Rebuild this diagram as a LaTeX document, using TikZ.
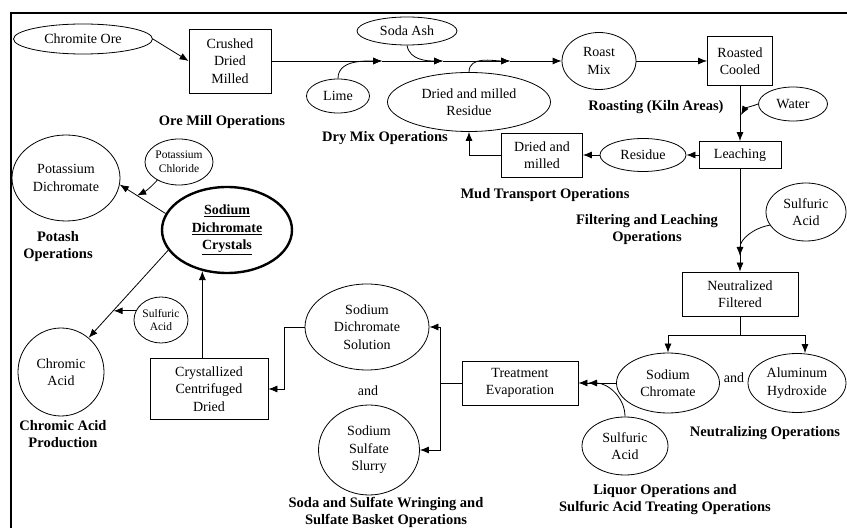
\documentclass[tikz,border=0pt]{standalone}
\usepackage{fontspec}
\setmainfont{Liberation Serif}
\usetikzlibrary{shapes.geometric,arrows.meta,calc}

\begin{document}
\begin{tikzpicture}[x=1pt, y=1pt,
   every node/.style={font=\fontsize{14}{17.5}\selectfont},
   oval/.style={ellipse, draw, line width=0.8pt, inner sep=0pt, align=center},
   stage/.style={draw, line width=0.8pt, inner sep=0pt, align=center},
   small/.style={font=\fontsize{11.5}{13.5}\selectfont, inner xsep=-6pt},
   area/.style={font=\fontsize{14.5}{17}\selectfont\bfseries, align=center},
   flow/.style={line width=0.8pt, -{Latex[length=9pt,width=7pt]}}]
\useasboundingbox (0,0) rectangle (847,528);
\draw[line width=1.2pt] (11,0) -- (11,515) -- (847,515);

\node[oval, minimum width=139, minimum height=30] (ore) at (83,489) {Chromite Ore};
\node[stage, minimum width=82, minimum height=64] (mill) at (230,467) {Crushed\\Dried\\Milled};
\node[oval, minimum width=100, minimum height=28] (soda) at (407,497) {Soda Ash};
\node[oval, minimum width=63, minimum height=34] (lime) at (338,432) {Lime};
\node[oval, minimum width=163, minimum height=59] (drymix) at (469,426) {Dried and milled\\Residue};
\node[oval, minimum width=74, minimum height=57] (roast) at (599,467) {Roast\\Mix};
\node[stage, minimum width=65, minimum height=49] (cooled) at (740,467) {Roasted\\Cooled};
\node[oval, minimum width=69, minimum height=34] (water) at (793,424) {Water};
\node[stage, minimum width=82, minimum height=27] (leach) at (740,373) {Leaching};
\node[oval, minimum width=86, minimum height=33] (residue) at (643,373) {Residue};
\node[stage, minimum width=81, minimum height=44] (mud) at (542,373) {Dried and\\milled};
\node[oval, minimum width=80, minimum height=58] (acida) at (806,316) {Sulfuric\\Acid};
\node[stage, minimum width=116, minimum height=44] (neutral) at (740,234) {Neutralized\\Filtered};
\node[oval, minimum width=103, minimum height=60] (chromate) at (668,145) {Sodium\\Chromate};
\node (andright) at (734,150) {and};
\node[oval, minimum width=98, minimum height=59] (alum) at (797,145) {Aluminum\\Hydroxide};
\node[oval, minimum width=86, minimum height=58] (acidb) at (625,82) {Sulfuric\\Acid};
\node[stage, minimum width=116, minimum height=44] (evap) at (520,145) {Treatment\\Evaporation};
\node[oval, minimum width=124, minimum height=86] (solution) at (367,201) {Sodium\\Dichromate\\Solution};
\node (andleft) at (368,137) {and};
\node[oval, minimum width=101, minimum height=90] (slurry) at (369,78) {Sodium\\Sulfate\\Slurry};
\node[stage, minimum width=118, minimum height=61] (cryst) at (209,139) {Crystallized\\Centrifuged\\Dried};
\node[oval, line width=2.4pt, minimum width=130, minimum height=86] (crystals) at (227,298)
  {\underline{\textbf{Sodium}}\\\underline{\textbf{Dichromate}}\\\underline{\textbf{Crystals}}};
\node[oval, minimum width=108, minimum height=86] (potdi) at (66,350) {Potassium\\Dichromate};
\node[oval, small, minimum width=68, minimum height=46] (kcl) at (179,366) {Potassium\\Chloride};
\node[oval, minimum width=86, minimum height=88] (chromic) at (61,156) {Chromic\\Acid};
\node[oval, small, minimum width=54, minimum height=46] (acidc) at (161,208) {Sulfuric\\Acid};

\node[area] (lblmill) at (222,406) {Ore Mill Operations};
\node[area] (lbldry) at (385,390) {Dry Mix Operations};
\node[area] (lblkiln) at (656,421) {Roasting (Kiln Areas)};
\node[area] (lblmud) at (545,333) {Mud Transport Operations};
\node[area] (lblfilter) at (647,298) {Filtering and Leaching\\Operations};
\node[area] (lblneutral) at (765,95) {Neutralizing Operations};
\node[area] (lblliquor) at (665,28) {Liquor Operations and\\Sulfuric Acid Treating Operations};
\node[area] (lblsoda) at (386,16) {Soda and Sulfate Wringing and\\Sulfate Basket Operations};
\node[area] (lblpotash) at (58,281) {Potash\\Operations};
\node[area] (lblchromic) at (63,94) {Chromic Acid\\Production};

\coordinate (j1) at (382,467);
\coordinate (j2) at (443,467);
\coordinate (j3) at (510,467);
\coordinate (w1) at (741,413);
\coordinate (a1) at (740,272);
\coordinate (s0) at (740,193);
\coordinate (b1) at (588,145);
\coordinate (t0) at (440,145);
\coordinate (k1) at ($(crystals.165)!0.62!(potdi.-7)$);
\coordinate (c1) at ($(crystals.199)!0.686!(chromic.51)$);

\draw[flow] (ore.east) -- (mill.west);
\draw[flow] (mill.east) -- (j1);
\draw[flow] (j1) -- (j2);
\draw[flow] (j2) -- (j3);
\draw[flow] (j3) -- (roast.west);
\draw[flow] (lime.north) to[out=90, in=180] (j1);
\draw[flow] (soda.south) to[out=-80, in=180] (j2);
\draw[flow] (drymix.north) to[out=90, in=180] (j3);
\draw[flow] (roast.east) -- (cooled.west);
\draw[flow] (cooled.south) -- (leach.north);
\draw[flow] (water.west) to[out=200, in=60] (w1);
\draw[flow] (leach.west) -- (residue.east);
\draw[flow] (residue.west) -- (mud.east);
\draw[flow] (mud.west) -| (drymix.south);
\draw[flow] (leach.south) -- (neutral.north);
\draw[flow] (acida.200) to[out=190, in=90] (a1);
\draw (neutral.south) -- (s0);
\draw[flow] (s0) -| (chromate.north);
\draw[flow] (s0) -| ([xshift=8pt]alum.north);
\draw[flow] (chromate.west) -- (evap.east);
\draw[flow] (acidb.north) to[out=90, in=0] (b1);
\draw (evap.west) -- (t0);
\draw[flow] (t0) |- (solution.east);
\draw[flow] (t0) |- (slurry.east);
\draw[flow] (solution.west) -- ++(-20,0) |- (cryst.east);
\draw[flow] (cryst.north -| crystals.239) -- (crystals.239);
\draw[flow] (crystals.165) -- (potdi.-7);
\draw[flow] (kcl.220) to[bend left=10] (k1);
\draw[flow] (crystals.199) -- (chromic.51);
\draw[flow] (acidc.160) -- (acidc.160 -| c1);
\end{tikzpicture}
\end{document}
